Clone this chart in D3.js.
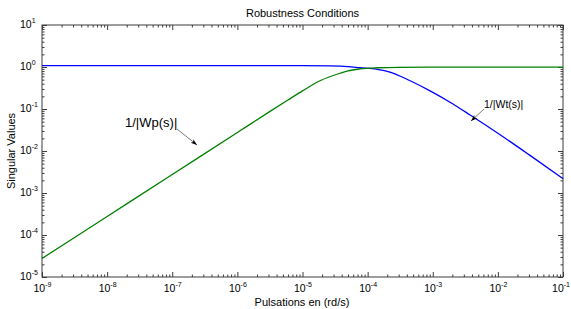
<!DOCTYPE html>
<html><head><meta charset="utf-8">
<script src="https://cdn.jsdelivr.net/npm/d3@7"></script>
<style>
body{margin:0;background:#fff;}
svg{display:block;font-family:"Liberation Sans",Arial,sans-serif;}
</style></head>
<body><svg id="c" width="571" height="309"></svg>
<script>
// Data
const wpFreq = [1e-9, 1e-8, 1e-7, 1e-6, 3e-6, 6e-6, 1e-5, 1.86e-5, 2.5e-5, 3.77e-5, 5e-5, 7.6e-5, 1.4e-4, 3e-4, 1e-3, 1e-2, 1e-1];
const wpVals = [2.76e-5, 2.76e-4, 2.76e-3, 0.0275, 0.083, 0.164, 0.27, 0.47, 0.57, 0.71, 0.81, 0.90, 0.96, 0.985, 0.99, 0.99, 0.99];
const wtFreq = [1e-9, 1e-7, 1e-5, 2.65e-5, 5e-5, 7.6e-5, 1.4e-4, 2.2e-4, 4.5e-4, 9.1e-4, 1.84e-3, 3.7e-3, 1e-2, 3e-2, 1e-1];
const wtVals = [1.08, 1.08, 1.075, 1.06, 1.02, 0.96, 0.88, 0.76, 0.47, 0.27, 0.145, 0.073, 0.0265, 8.2e-3, 2.2e-3];
const xMajor = [-9, -8, -7, -6, -5, -4, -3, -2, -1];
const yMajor = [1, 0, -1, -2, -3, -4, -5];
const title = "Robustness Conditions";
const xLabel = "Pulsations en (rd/s)";
const yLabel = "Singular Values";

const L = 42, R = 563, T = 25, B = 277;
const svg = d3.select("#c");
const x = d3.scaleLog().domain([1e-9, 1e-1]).range([L, R]);
const y = d3.scaleLog().domain([1e-5, 1e1]).range([B, T]);

function minors(lo, hi) {
  const out = [];
  for (let e = lo; e < hi; e++) for (let k = 2; k <= 9; k++) out.push(k * Math.pow(10, e));
  return out;
}
const xMin = minors(-9, -1), yMin = minors(-5, 1);
const xMaj = xMajor.map(e => Math.pow(10, e)), yMaj = yMajor.map(e => Math.pow(10, e));

const axColor = "#3c3c3c";
function styleAxis(g) {
  g.select(".domain").remove();
  g.selectAll("line").attr("stroke", axColor).attr("stroke-width", 1);
}
svg.append("g").attr("transform", `translate(0,${B})`).call(d3.axisBottom(x).tickValues(xMaj).tickSize(-5).tickFormat("")).call(styleAxis);
svg.append("g").attr("transform", `translate(0,${B})`).call(d3.axisBottom(x).tickValues(xMin).tickSize(-2.5).tickFormat("")).call(styleAxis);
svg.append("g").attr("transform", `translate(0,${T})`).call(d3.axisTop(x).tickValues(xMaj).tickSize(-5).tickFormat("")).call(styleAxis);
svg.append("g").attr("transform", `translate(0,${T})`).call(d3.axisTop(x).tickValues(xMin).tickSize(-2.5).tickFormat("")).call(styleAxis);
svg.append("g").attr("transform", `translate(${L},0)`).call(d3.axisLeft(y).tickValues(yMaj).tickSize(-5).tickFormat("")).call(styleAxis);
svg.append("g").attr("transform", `translate(${L},0)`).call(d3.axisLeft(y).tickValues(yMin).tickSize(-2.5).tickFormat("")).call(styleAxis);
svg.append("g").attr("transform", `translate(${R},0)`).call(d3.axisRight(y).tickValues(yMaj).tickSize(-5).tickFormat("")).call(styleAxis);
svg.append("g").attr("transform", `translate(${R},0)`).call(d3.axisRight(y).tickValues(yMin).tickSize(-2.5).tickFormat("")).call(styleAxis);

svg.append("rect").attr("x", L).attr("y", T).attr("width", R - L).attr("height", B - T)
  .attr("fill", "none").attr("stroke", axColor).attr("stroke-width", 1);

// Tick labels with superscripts
function powLabel(g, e) {
  const t = g.append("text").attr("fill", "#000").attr("font-size", 10.5);
  t.append("tspan").text("10");
  t.append("tspan").attr("dy", -5).attr("font-size", 7).text(String(e));
  return t;
}
xMajor.forEach((e, i) => {
  const g = svg.append("g");
  const t = powLabel(g, e).attr("y", 292);
  const w = t.node().getComputedTextLength();
  let sx = x(Math.pow(10, e)) - 8.5;
  if (sx + w > 570) sx = 570 - w;
  t.attr("x", sx);
});
yMajor.forEach(e => {
  const g = svg.append("g");
  const t = powLabel(g, e).attr("y", y(Math.pow(10, e)) + 3);
  t.attr("x", 20);
});

// lines
const line = d3.line().x(d => x(d[0])).y(d => y(d[1])).curve(d3.curveMonotoneX);
svg.append("path").datum(wtFreq.map((f, i) => [f, wtVals[i]]))
  .attr("d", line).attr("fill", "none").attr("stroke", "#0000ff").attr("stroke-width", 1.3);
svg.append("path").datum(wpFreq.map((f, i) => [f, wpVals[i]]))
  .attr("d", line).attr("fill", "none").attr("stroke", "#008000").attr("stroke-width", 1.3);

// annotations
const defs = svg.append("defs");
defs.append("marker").attr("id", "ah").attr("viewBox", "0 0 10 10").attr("refX", 10).attr("refY", 5)
  .attr("markerWidth", 8).attr("markerHeight", 8).attr("orient", "auto")
  .append("path").attr("d", "M0,1.5 L10,5 L0,8.5 L2.5,5 Z").attr("fill", "#000");

svg.append("text").attr("x", 125).attr("y", 127).attr("font-size", 13).attr("fill", "#000").text("1/|Wp(s)|");
svg.append("line").attr("x1", 177).attr("y1", 129).attr("x2", 197).attr("y2", 145)
  .attr("stroke", "#555").attr("stroke-width", 0.8).attr("marker-end", "url(#ah)");
svg.append("text").attr("x", 484).attr("y", 108).attr("font-size", 10.5).attr("fill", "#000").text("1/|Wt(s)|");
svg.append("line").attr("x1", 484).attr("y1", 109).attr("x2", 471).attr("y2", 121)
  .attr("stroke", "#555").attr("stroke-width", 0.8).attr("marker-end", "url(#ah)");

svg.append("text").attr("x", (L + R) / 2).attr("y", 17).attr("text-anchor", "middle").attr("font-size", 11).text(title);
svg.append("text").attr("x", 302).attr("y", 306).attr("text-anchor", "middle").attr("font-size", 11).text(xLabel);
svg.append("text").attr("transform", `translate(15,${(T + B) / 2}) rotate(-90)`).attr("text-anchor", "middle").attr("font-size", 11).text(yLabel);
</script></body></html>
